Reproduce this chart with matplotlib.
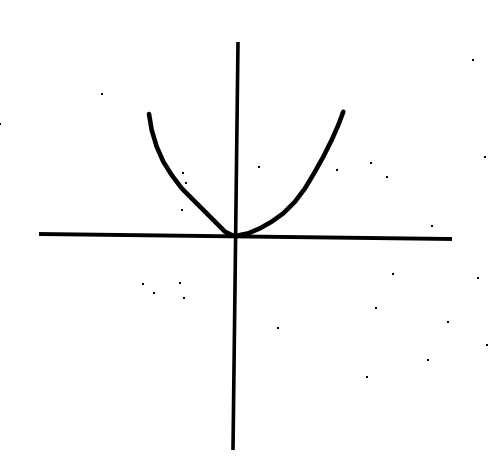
import numpy as np
import matplotlib
matplotlib.use("Agg")
import matplotlib.pyplot as plt

# curve (origin at the axis crossing)
left_x = [-2.175, -2.108, -1.983, -1.817, -1.608, -1.358, -1.067, -0.733, -0.442, -0.275, -0.108, 0.025]
left_y = [3.05, 2.65, 2.233, 1.858, 1.525, 1.192, 0.9, 0.567, 0.275, 0.108, 0.025, 0.0]
right_x = [0.025, 0.1, 0.308, 0.6, 0.892, 1.183, 1.475, 1.725, 1.975, 2.183, 2.392, 2.558, 2.683]
right_y = [0.0, 0.025, 0.067, 0.192, 0.358, 0.567, 0.858, 1.192, 1.608, 1.983, 2.4, 2.775, 3.108]

# hand drawn axes (slightly tilted)
h_axis_x = [-4.925, 5.4]
h_axis_y = [0.05, -0.075]
v_axis_x = [0.05, -0.075]
v_axis_y = [4.85, -5.35]

# scan specks
speck_x = [-3.35, -5.9, 5.925, 0.575, 2.525, 3.375, 3.775, 4.9, -1.325, -1.25,
           -1.35, -2.325, -2.05, -1.4, -1.3, 3.925, 6.05, 3.5, 5.3, 1.05, 4.8, 3.275, 6.275, 6.225]
speck_y = [3.55, 2.8, 4.4, 1.725, 1.65, 1.825, 1.475, 0.25, 1.575, 1.325,
           0.65, -1.2, -1.425, -1.175, -1.55, -0.95, -1.05, -1.8, -2.15, -2.3, -3.1, -3.525, -2.725, 1.975]

fig = plt.figure(figsize=(4.9, 4.67), dpi=100)
ax = fig.add_axes([0, 0, 1, 1])
ax.plot(h_axis_x, h_axis_y, color="black", lw=2.8, solid_capstyle="butt")
ax.plot(v_axis_x, v_axis_y, color="black", lw=2.6, solid_capstyle="butt")
ax.plot(left_x, left_y, color="black", lw=3.3, solid_capstyle="round", solid_joinstyle="round")
ax.plot(right_x, right_y, color="black", lw=3.3, solid_capstyle="round", solid_joinstyle="round")
ax.scatter(speck_x, speck_y, s=4, color="black", marker="s", linewidths=0)
ax.set_xlim(-5.9, 6.35)
ax.set_ylim(-5.775, 5.9)
ax.axis("off")
fig.savefig("out.png", dpi=100, facecolor="white")
